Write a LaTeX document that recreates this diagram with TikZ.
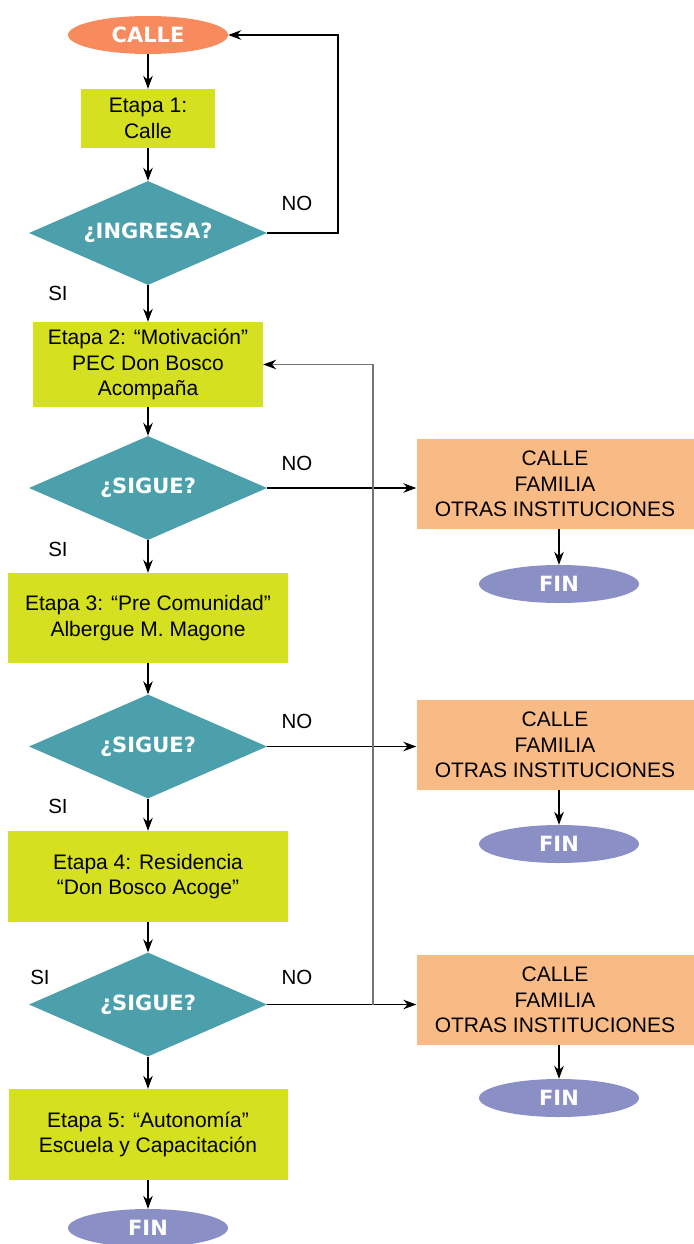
\documentclass[tikz,border=0pt]{standalone}
\usepackage{fontspec}
\setmainfont{Liberation Sans}
\newfontfamily\vbold{DejaVu Sans Bold}
\usetikzlibrary{shapes.geometric,arrows.meta}
\definecolor{cOrange}{HTML}{F78B5E}
\definecolor{cStage}{HTML}{D5E021}
\definecolor{cTeal}{HTML}{4BA0AC}
\definecolor{cPeach}{HTML}{F9BB86}
\definecolor{cFin}{HTML}{8A8FC6}
\begin{document}
\begin{tikzpicture}[x=1pt,y=-1pt,
  every node/.style={font=\fontsize{21}{25.5}\selectfont, align=center, inner sep=0pt},
  term/.style={ellipse, minimum width=160, minimum height=38, text=white, font=\fontsize{21}{25}\selectfont\vbold},
  stage/.style={rectangle, fill=cStage, align=center},
  decis/.style={diamond, aspect=2.29, fill=cTeal, minimum width=238, minimum height=104, text=white, font=\fontsize{21}{25}\selectfont\vbold},
  outbox/.style={rectangle, fill=cPeach, minimum width=277, minimum height=90},
  lbl/.style={font=\fontsize{20.5}{24}\selectfont},
  arr/.style={-{Stealth[length=13pt,width=9.5pt]}, line width=1.1pt, black},
  back/.style={-{Stealth[length=13pt,width=9.5pt,black]}, line width=1.5pt, black!55}
]
\useasboundingbox (0,0) rectangle (693,1244);

% left column
\node[term, fill=cOrange] (calle) at (148,35) {CALLE};
\node[stage, minimum width=134, minimum height=59] (e1) at (148,118.5) {Etapa 1:\\Calle};
\node[decis] (d1) at (148,233) {¿INGRESA?};
\node[stage, minimum width=230, minimum height=85] (e2) at (148,364.5) {Etapa 2: “Motivación”\\PEC Don Bosco\\Acompaña};
\node[decis] (d2) at (148,488) {¿SIGUE?};
\node[stage, minimum width=280, minimum height=90] (e3) at (148,618) {Etapa 3: “Pre Comunidad”\\Albergue M. Magone};
\node[decis] (d3) at (148,746.5) {¿SIGUE?};
\node[stage, minimum width=280, minimum height=91] (e4) at (148,876.5) {Etapa 4: Residencia\\“Don Bosco Acoge”};
\node[decis] (d4) at (148,1004.5) {¿SIGUE?};
\node[stage, minimum width=279, minimum height=91] (e5) at (148,1134.5) {Etapa 5: “Autonomía”\\Escuela y Capacitación};
\node[term, fill=cFin] (fin0) at (148,1228) {FIN};

% right column
\node[outbox] (o1) at (555,484) {CALLE\\FAMILIA\\OTRAS INSTITUCIONES};
\node[term, fill=cFin] (f1) at (559,584) {FIN};
\node[outbox] (o2) at (555,745) {CALLE\\FAMILIA\\OTRAS INSTITUCIONES};
\node[term, fill=cFin] (f2) at (559,844) {FIN};
\node[outbox] (o3) at (555,1000) {CALLE\\FAMILIA\\OTRAS INSTITUCIONES};
\node[term, fill=cFin] (f3) at (559,1098) {FIN};

% labels
\node[lbl] (no1) at (297,203) {NO};
\node[lbl] (si1) at (58,293) {SI};
\node[lbl] (no2) at (297,463) {NO};
\node[lbl] (si2) at (58,549) {SI};
\node[lbl] (no3) at (297,721) {NO};
\node[lbl] (si3) at (58,806) {SI};
\node[lbl] (no4) at (297,977) {NO};
\node[lbl] (si4) at (40,977) {SI};

% main flow
\draw[arr] (calle.south) -- (e1.north);
\draw[arr] (e1.south) -- (d1.north);
\draw[arr] (d1.south) -- (e2.north);
\draw[arr] (e2.south) -- (d2.north);
\draw[arr] (d2.south) -- (e3.north);
\draw[arr] (e3.south) -- (d3.north);
\draw[arr] (d3.south) -- (e4.north);
\draw[arr] (e4.south) -- (d4.north);
\draw[arr] (d4.south) -- (e5.north);
\draw[arr] (e5.south) -- (fin0.north);

% NO loop back to CALLE
\coordinate (loopc) at (338,233);
\draw[arr] (d1.east) -- (loopc) |- (calle.east);

% NO branches
\draw[arr] (d2.east) -- (d2.east -| o1.west);
\draw[arr] (d3.east) -- (d3.east -| o2.west);
\draw[arr] (d4.east) -- (d4.east -| o3.west);
\draw[arr] (f1.north |- o1.south) -- (f1.north);
\draw[arr] (f2.north |- o2.south) -- (f2.north);
\draw[arr] (f3.north |- o3.south) -- (f3.north);

% gray return line to Etapa 2
\coordinate (jn) at (373,1004.5);
\draw[back] (jn) |- (e2.east);
\end{tikzpicture}
\end{document}
